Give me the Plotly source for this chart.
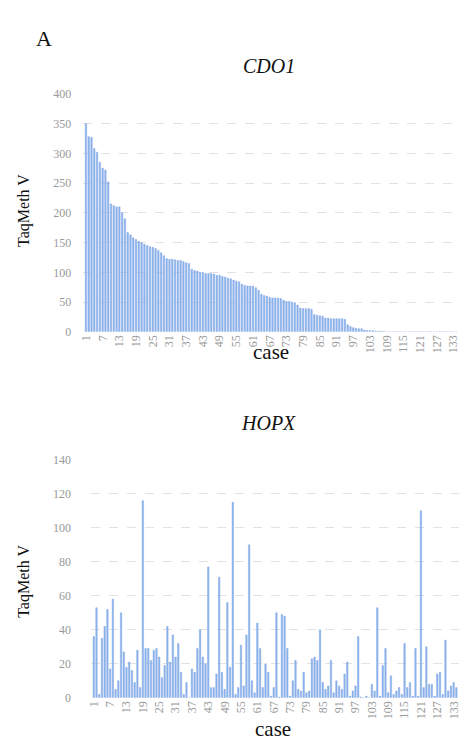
import plotly.graph_objects as go

W, H = 468, 747

cases = list(range(1, 135))

cdo1 = [350, 328, 327, 308, 302, 285, 275, 272, 252, 215,
        212, 210, 210, 200, 190, 167, 163, 158, 155, 152,
        150, 147, 145, 143, 142, 140, 137, 133, 128, 123,
        122, 122, 121, 120, 120, 118, 116, 115, 105, 103,
        102, 100, 100, 98, 98, 98, 97, 95, 95, 93,
        92, 90, 89, 87, 85, 84, 80, 78, 77, 77,
        77, 74, 70, 63, 61, 60, 58, 57, 57, 57,
        56, 53, 51, 51, 50, 49, 45, 40, 39, 39,
        39, 38, 29, 28, 27, 26, 23, 23, 22, 22,
        22, 22, 22, 21, 12, 9, 7, 6, 5, 5,
        3, 2, 2, 2, 1, 1, 0.8, 0.5, 0, 0,
        0, 0, 0, 0, 0, 0, 0, 0, 0, 0,
        0, 0, 0, 0, 0, 0, 0, 0, 0, 0,
        0, 0, 0, 0]

hopx = [36, 53, 2, 35, 42, 52, 17, 58, 5, 10,
        50, 27, 18, 21, 16, 9, 28, 6, 116, 29,
        29, 22, 28, 29, 24, 12, 19, 42, 21, 37,
        24, 32, 15, 2, 9, 0, 17, 15, 29, 40,
        24, 20, 77, 6, 6, 14, 71, 15, 5, 56,
        18, 115, 2, 6, 31, 7, 37, 90, 10, 3,
        44, 29, 6, 20, 15, 1, 6, 50, 0.5, 49,
        48, 29, 1, 10, 22, 5, 4, 15, 3, 4,
        23, 24, 22, 40, 9, 5, 7, 22, 3, 10,
        7, 5, 14, 21, 1, 4, 7, 36, 0.5, 0,
        1, 0, 8, 4, 53, 1, 19, 29, 3, 13,
        2, 4, 6, 2, 32, 6, 9, 1, 29, 1,
        110, 6, 30, 8, 8, 1, 14, 15, 2, 34,
        4, 7, 9, 6]

xtick_vals = list(range(1, 134, 6))
xtick_text = [str(v) for v in xtick_vals]

def px_x(p):
    return p / W

def px_y(p):
    return 1 - p / H

BAR_FILL = "#8DB8EE"
BAR_LINE = "#7C9CE0"
TICK_FONT = dict(family="Liberation Serif", size=12, color="#999999")
GRID = "#e2e2e2"

fig = go.Figure()
fig.add_trace(go.Bar(x=cases, y=cdo1, xaxis="x", yaxis="y",
                     marker=dict(color=BAR_FILL, line=dict(color=BAR_LINE, width=0.4)),
                     showlegend=False))
fig.add_trace(go.Bar(x=cases, y=hopx, xaxis="x2", yaxis="y2",
                     marker=dict(color=BAR_FILL, line=dict(color=BAR_LINE, width=0.4)),
                     showlegend=False))

common_x = dict(tickvals=xtick_vals, ticktext=xtick_text, tickangle=-90,
                tickfont=TICK_FONT, showgrid=False, zeroline=False,
                showline=False, ticks="", range=[0, 135])
common_y = dict(tickfont=TICK_FONT, showgrid=True, gridcolor=GRID,
                griddash="dash", gridwidth=1, zeroline=False, showline=False, ticks="")

fig.update_layout(
    width=W, height=H,
    margin=dict(l=0, r=0, t=0, b=0),
    paper_bgcolor="white", plot_bgcolor="white",
    bargap=0.45,
    xaxis=dict(domain=[px_x(80), px_x(460)], anchor="y", **common_x),
    yaxis=dict(domain=[px_y(331), px_y(88.5)], anchor="x", range=[0, 400],
               tickvals=list(range(0, 401, 50)), ticklabelstandoff=11, **common_y),
    xaxis2=dict(domain=[px_x(88), px_x(460)], anchor="y2", **common_x),
    yaxis2=dict(domain=[px_y(704), px_y(461.5)], anchor="x2", range=[0, 140],
                tickvals=list(range(0, 141, 20)), ticklabelstandoff=19, **common_y),
)

serif = "Liberation Serif"
ann = [
    dict(text="A", x=px_x(40), y=px_y(32), font=dict(family=serif, size=22, color="#111")),
    dict(text="<i>CDO1</i>", x=px_x(268), y=px_y(60), font=dict(family=serif, size=20, color="#111")),
    dict(text="<i>HOPX</i>", x=px_x(267), y=px_y(424), font=dict(family=serif, size=20, color="#111")),
    dict(text="TaqMeth V", x=px_x(20), y=px_y(207), textangle=-90, font=dict(family=serif, size=16, color="#111")),
    dict(text="TaqMeth V", x=px_x(20), y=px_y(585), textangle=-90, font=dict(family=serif, size=16, color="#111")),
    dict(text="case", x=px_x(270), y=px_y(352), font=dict(family=serif, size=21, color="#111")),
    dict(text="case", x=px_x(272), y=px_y(736), font=dict(family=serif, size=21, color="#111")),
]
for a in ann:
    a.update(xref="paper", yref="paper", showarrow=False, xanchor="center", yanchor="middle")
fig.update_layout(annotations=ann)

fig.write_html("out.html")
